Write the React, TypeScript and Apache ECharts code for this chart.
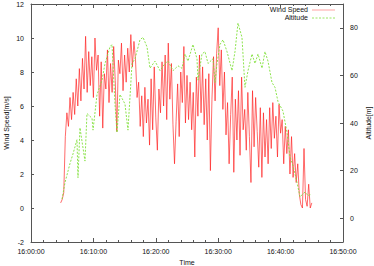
import React, { useEffect, useRef } from "react";
import * as echarts from "echarts";

// Wind speed [m/s], sampled every 0.25 min starting 16:04:45
const windStart = 4.75;
const windStep = 0.25;
const windValues = [
  0.3,
  0.5, 0.9, 4.2, 5.6,
  4.8, 6.5, 5.2, 6.8,
  5.5, 7.6, 6.0, 8.2,
  6.3, 8.8, 7.0, 10.1,
  6.8, 9.2, 7.2, 8.9,
  6.5, 10.0, 8.1, 9.0,
  5.4, 8.6, 4.7, 7.9,
  7.0, 9.3, 6.2, 8.5,
  6.8, 9.5, 7.5, 4.5,
  8.7, 7.9, 9.7, 6.9,
  9.0, 7.4, 9.4, 8.0,
  10.2, 8.3, 9.8, 8.7,
  6.5, 7.4, 4.8, 6.6,
  4.2, 7.1, 5.0, 6.4,
  3.7, 7.6, 4.6, 8.3,
  5.3, 3.4, 7.0, 5.6,
  8.6, 6.0, 9.0, 5.2,
  9.7, 6.4, 8.5, 4.9,
  2.6, 5.1, 7.3, 4.2,
  8.0, 6.2, 9.5, 5.0,
  7.8, 5.2, 7.4, 4.6,
  6.8, 3.0, 7.7, 5.4,
  9.0, 5.6, 8.3, 4.9,
  7.6, 4.0, 7.9, 2.2,
  6.4, 8.9, 6.3, 9.1,
  10.6, 7.2, 9.3, 5.8,
  8.0, 4.3, 6.2, 2.6,
  5.5, 7.7, 2.1, 6.4,
  4.0, 6.9, 3.1, 7.7,
  4.6, 5.8, 3.4, 6.8,
  4.2, 1.5, 6.9, 3.6,
  6.5, 4.5, 2.4, 5.9,
  1.8, 5.6, 3.0, 5.2,
  2.6, 5.9, 3.5, 6.2,
  4.1, 5.4, 3.0, 6.1,
  4.4, 5.2, 2.6, 4.8,
  3.2, 4.6, 2.0, 4.2,
  1.8, 3.2, 1.5, 2.6,
  0.8, 0.2, 0.0, 3.5,
  0.5, 0.1, 1.4, 0.0,
  0.3,
];

// Altitude [m] — minutes after 16:00 and value
const altTimes = [
  4.97, 5.45, 6.25, 6.73, 7.37, 7.53, 7.85, 8.65, 8.97, 9.78, 9.94, 10.58,
  11.38, 11.86, 12.66, 12.98, 13.46, 13.78, 14.26, 15.06, 15.54, 16.19, 16.67,
  17.47, 17.95, 18.59, 19.07, 19.87, 20.67, 21.47, 21.96, 22.76, 23.56, 24.2,
  24.68, 25.16, 25.96, 26.6, 26.76, 27.4, 27.88, 28.37, 29.17, 29.49, 29.81,
  30.29, 30.77, 31.41, 32.21, 32.69, 33.17, 33.81, 34.29, 34.78, 35.42, 35.9,
  36.38, 37.02, 37.5, 37.98, 38.62, 39.1, 39.58, 40.38, 41.03, 41.5, 41.99,
  42.63, 43.11, 43.91, 44.39, 44.87,
];
const altValues = [
  8, 15, 23, 27, 33, 17, 38, 24, 44, 42, 37, 52,
  58, 65, 72, 73, 48, 36, 52, 48, 37, 65, 67,
  75, 76, 72, 63, 66, 62, 65, 66, 62, 64, 63,
  69, 66, 73, 67, 58, 69, 70, 65, 67, 57, 65,
  73, 75, 70, 62, 70, 82, 76, 55, 62, 69, 65,
  69, 63, 70, 66, 57, 55, 49, 45, 36, 26, 22,
  15, 9, 11, 9.5, 10,
];

const xTicks = [0, 10, 20, 30, 40, 50];
const yLeftTicks = [-2, 0, 2, 4, 6, 8, 10, 12];
const yRightTicks = [0, 20, 40, 60, 80];

const FONT = "Liberation Sans, Arial, sans-serif";
const AXIS = "#555555";
const RED = "#ff1a1a";
const GREEN = "#80e03a";

export default function App() {
  const ref = useRef<HTMLDivElement>(null);
  useEffect(() => {
    if (!ref.current) return;
    const chart = echarts.init(ref.current, undefined, { renderer: "svg" });
    const windData = windValues.map((v, i) => [windStart + i * windStep, v]);
    const altData = altTimes.map((t, i) => [t, altValues[i]]);
    const fmt = (v: number) => `16:${String(v).padStart(2, "0")}:00`;
    const label = { color: "#111", fontSize: 7, fontFamily: FONT };
    const nameStyle = { fill: "#111", font: `7px ${FONT}`, textAlign: "center", textVerticalAlign: "middle" };
    chart.setOption({
      animation: false,
      grid: { left: 31, right: 31, top: 4, bottom: 24, containLabel: false, outerBoundsMode: "none" },
      xAxis: [
        {
          type: "value",
          min: xTicks[0],
          max: xTicks[xTicks.length - 1],
          interval: 10,
          position: "bottom",
          axisLine: { show: true, onZero: false, lineStyle: { color: AXIS, width: 1 } },
          axisTick: { show: true, inside: true, length: 4, lineStyle: { color: AXIS } },
          minorTick: { show: true, splitNumber: 5, length: 2, lineStyle: { color: AXIS } },
          splitLine: { show: false },
          axisLabel: { ...label, formatter: fmt, margin: 6 },
        },
        {
          type: "value",
          min: xTicks[0],
          max: xTicks[xTicks.length - 1],
          interval: 10,
          position: "top",
          axisLine: { show: true, onZero: false, lineStyle: { color: AXIS, width: 1 } },
          axisTick: { show: true, inside: true, length: 4, lineStyle: { color: AXIS } },
          minorTick: { show: true, splitNumber: 5, length: 2, lineStyle: { color: AXIS } },
          splitLine: { show: false },
          axisLabel: { show: false },
        },
      ],
      yAxis: [
        {
          type: "value",
          min: yLeftTicks[0],
          max: yLeftTicks[yLeftTicks.length - 1],
          interval: 2,
          position: "left",
          axisLine: { show: true, onZero: false, lineStyle: { color: AXIS, width: 1 } },
          axisTick: { show: true, inside: true, length: 3, lineStyle: { color: AXIS } },
          splitLine: { show: false },
          axisLabel: { ...label, margin: 7 },
        },
        {
          type: "value",
          min: -10,
          max: 90,
          position: "right",
          axisLine: { show: true, onZero: false, lineStyle: { color: AXIS, width: 1 } },
          axisTick: {
            show: true,
            inside: true,
            length: 3,
            customValues: yRightTicks,
            lineStyle: { color: AXIS },
          },
          splitLine: { show: false },
          axisLabel: { ...label, margin: 7, customValues: yRightTicks },
        },
      ],
      graphic: [
        { type: "text", x: 6, y: 123, rotation: Math.PI / 2, style: { text: "Wind Speed[m/s]", ...nameStyle } },
        { type: "text", x: 368, y: 123, rotation: Math.PI / 2, style: { text: "Altitude[m]", ...nameStyle } },
        { type: "text", x: 187, y: 262, style: { text: "Time", ...nameStyle } },
        { type: "text", right: 66, top: 6, style: { text: "Wind Speed", fill: "#111", font: `7px ${FONT}`, textAlign: "right" } },
        { type: "text", right: 66, top: 14, style: { text: "Altitude", fill: "#111", font: `7px ${FONT}`, textAlign: "right" } },
        { type: "line", shape: { x1: 312, y1: 10, x2: 335, y2: 10 }, style: { stroke: RED, lineWidth: 0.8, opacity: 0.5 } },
        { type: "line", shape: { x1: 312, y1: 18, x2: 335, y2: 18 }, style: { stroke: GREEN, lineWidth: 0.8, lineDash: [2, 1.5] } },
      ],
      series: [
        {
          name: "Wind Speed",
          type: "line",
          xAxisIndex: 0,
          yAxisIndex: 0,
          data: windData,
          showSymbol: false,
          symbol: "none",
          lineStyle: { color: RED, width: 1, opacity: 0.65 },
          z: 2,
        },
        {
          name: "Altitude",
          type: "line",
          xAxisIndex: 0,
          yAxisIndex: 1,
          data: altData,
          showSymbol: false,
          symbol: "none",
          lineStyle: { color: GREEN, width: 0.9, type: [2, 1.5] },
          z: 3,
        },
      ],
    });
    return () => chart.dispose();
  }, []);
  return <div ref={ref} style={{ width: 374, height: 266, position: "absolute", left: 0, top: 0 }} />;
}
